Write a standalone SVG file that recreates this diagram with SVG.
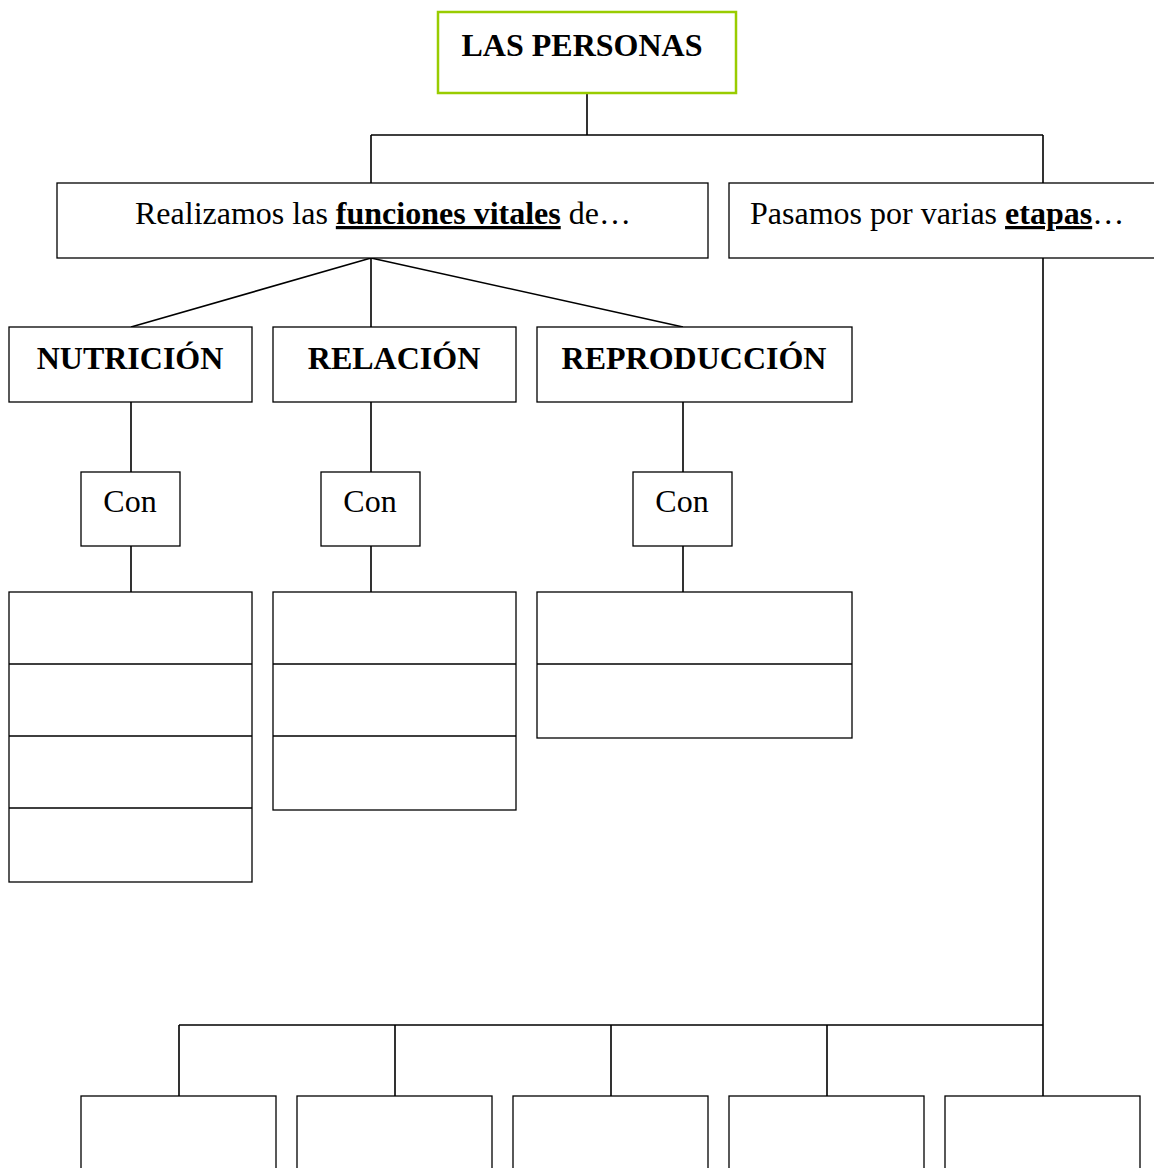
<svg xmlns="http://www.w3.org/2000/svg" width="1154" height="1168" viewBox="0 0 1154 1168">
<style>
.box{fill:#fff;stroke:#000;stroke-width:1.3}
.ln{fill:none;stroke:#000;stroke-width:1.6}
.t{font-family:"Liberation Serif","Times New Roman",serif;font-size:32px;fill:#000}
.b{font-weight:bold}
.u{text-decoration:underline}
</style>
<rect width="1154" height="1168" fill="#fff"/>
<g id="connectors">
<path class="ln" d="M587,93V135M371,135H1043M371,135V183M1043,135V183"/>
<path class="ln" d="M371,258L131,327M371,258V327M371,258L683,327"/>
<path class="ln" d="M131,402V472M131,546V592M371,402V472M371,546V592M683,402V472M683,546V592"/>
<path class="ln" d="M1043,258V1097M179,1025H1043M179,1025V1097M395,1025V1097M611,1025V1097M827,1025V1097"/>
</g>
<g id="n-personas"><rect x="438" y="12" width="298" height="81" fill="#fff" stroke="#99cc00" stroke-width="2.5"/><text class="t b" x="582" y="56" text-anchor="middle">LAS PERSONAS</text></g>
<g id="n-funciones"><rect class="box" x="57" y="183" width="651" height="75"/><text class="t" x="135" y="224">Realizamos las <tspan class="b u">funciones vitales</tspan> de…</text></g>
<g id="n-etapas"><rect class="box" x="729" y="183" width="440" height="75"/><text class="t" x="750" y="224">Pasamos por varias <tspan class="b u">etapas</tspan>…</text></g>
<g id="n-nutricion"><rect class="box" x="9" y="327" width="243" height="75"/><text class="t b" x="130" y="369" text-anchor="middle">NUTRICIÓN</text></g>
<g id="n-relacion"><rect class="box" x="273" y="327" width="243" height="75"/><text class="t b" x="394" y="369" text-anchor="middle">RELACIÓN</text></g>
<g id="n-reproduccion"><rect class="box" x="537" y="327" width="315" height="75"/><text class="t b" x="694" y="369" text-anchor="middle">REPRODUCCIÓN</text></g>
<g id="n-con1"><rect class="box" x="81" y="472" width="99" height="74"/><text class="t" x="130" y="512" text-anchor="middle">Con</text></g>
<g id="n-con2"><rect class="box" x="321" y="472" width="99" height="74"/><text class="t" x="370" y="512" text-anchor="middle">Con</text></g>
<g id="n-con3"><rect class="box" x="633" y="472" width="99" height="74"/><text class="t" x="682" y="512" text-anchor="middle">Con</text></g>
<g id="n-nut-list"><rect class="box" x="9" y="592" width="243" height="290"/><path class="ln" stroke-width="1.3" d="M9,664H252M9,736H252M9,808H252"/></g>
<g id="n-rel-list"><rect class="box" x="273" y="592" width="243" height="218"/><path class="ln" stroke-width="1.3" d="M273,664H516M273,736H516"/></g>
<g id="n-rep-list"><rect class="box" x="537" y="592" width="315" height="146"/><path class="ln" stroke-width="1.3" d="M537,664H852"/></g>
<g id="n-etapa1"><rect class="box" x="81" y="1096" width="195" height="90"/></g>
<g id="n-etapa2"><rect class="box" x="297" y="1096" width="195" height="90"/></g>
<g id="n-etapa3"><rect class="box" x="513" y="1096" width="195" height="90"/></g>
<g id="n-etapa4"><rect class="box" x="729" y="1096" width="195" height="90"/></g>
<g id="n-etapa5"><rect class="box" x="945" y="1096" width="195" height="90"/></g>
</svg>
